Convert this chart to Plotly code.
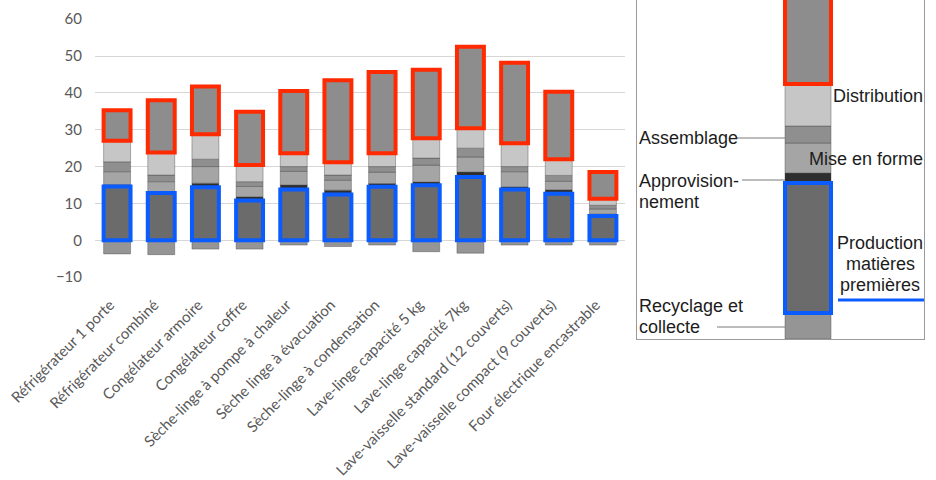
import numpy as np
import plotly.graph_objects as go

# ---------------- data ----------------
categories = [
    "Réfrigérateur 1 porte", "Réfrigérateur combiné", "Congélateur armoire",
    "Congélateur coffre", "Sèche-linge à pompe à chaleur", "Sèche linge à évacuation",
    "Sèche-linge à condensation", "Lave-linge capacité 5 kg", "Lave-linge capacité 7kg",
    "Lave-vaisselle standard (12 couverts)", "Lave-vaisselle compact (9 couverts)",
    "Four électrique encastrable",
]
production = [14.6, 12.8, 14.4, 10.8, 13.8, 12.4, 14.5, 14.9, 17.2, 13.8, 12.6, 6.6]
approvisionnement = [0.5, 0.3, 1.1, 1.0, 1.2, 1.2, 0.9, 0.9, 1.3, 0.7, 1.1, 0.5]
mise_en_forme = [3.5, 2.8, 4.5, 2.8, 3.7, 2.7, 3.1, 4.6, 4.1, 4.1, 2.3, 1.4]
assemblage = [2.7, 1.8, 2.0, 1.3, 1.3, 1.4, 1.5, 1.9, 2.4, 1.4, 1.6, 1.0]
distribution = [5.7, 6.1, 6.8, 4.5, 3.6, 3.5, 3.6, 5.4, 5.4, 6.3, 4.4, 1.8]
segment_haut = [8.3, 14.2, 12.9, 14.5, 16.9, 22.2, 22.1, 18.6, 22.1, 21.9, 18.3, 7.2]
recyclage = [-3.7, -3.9, -2.4, -2.4, -1.3, -1.7, -1.3, -3.1, -3.5, -1.3, -1.3, -1.3]
y_ticks = [-10, 0, 10, 20, 30, 40, 50, 60]

# schematic legend bar (arbitrary units)
legende_valeurs = {
    "production": 130, "approvisionnement": 10, "mise_en_forme": 30,
    "assemblage": 17, "distribution": 42, "segment_haut": 100, "recyclage": -26,
}

# ---------------- styles ----------------
W, H = 936, 480
BLUE = "#0a5cff"
RED = "#ff2a00"
colors = {
    "production": "#6b6b6b", "approvisionnement": "#2e2e2e", "mise_en_forme": "#a5a5a5",
    "assemblage": "#8f8f8f", "distribution": "#c6c6c6", "segment_haut": "#8d8d8d",
    "recyclage": "#959595",
}
names = {
    "production": "Production matières premières", "approvisionnement": "Approvisionnement",
    "mise_en_forme": "Mise en forme", "assemblage": "Assemblage",
    "distribution": "Distribution", "segment_haut": "Segment supérieur",
    "recyclage": "Recyclage et collecte",
}
outline = {
    "production": dict(color=BLUE, width=4),
    "segment_haut": dict(color=RED, width=4),
}
thin = dict(color="rgba(70,70,70,0.4)", width=1)

stack_order = ["production", "approvisionnement", "mise_en_forme", "assemblage",
               "distribution", "segment_haut"]
series = {
    "production": production, "approvisionnement": approvisionnement,
    "mise_en_forme": mise_en_forme, "assemblage": assemblage,
    "distribution": distribution, "segment_haut": segment_haut,
}

# bases from cumulative sums
bases = {}
run = np.zeros(len(categories))
for k in stack_order:
    bases[k] = run.copy()
    run = run + np.array(series[k])

leg_bases = {}
r = 0.0
for k in stack_order:
    leg_bases[k] = r
    r += legende_valeurs[k]

draw_order = ["recyclage", "approvisionnement", "mise_en_forme", "assemblage",
              "distribution", "production", "segment_haut"]

fig = go.Figure()
for k in draw_order:
    vals = recyclage if k == "recyclage" else series[k]
    base = np.zeros(len(categories)) if k == "recyclage" else bases[k]
    fig.add_trace(go.Bar(
        x=categories, y=vals, base=base, name=names[k],
        marker=dict(color=colors[k], line=outline.get(k, thin)),
        xaxis="x", yaxis="y", hoverinfo="skip", showlegend=False,
    ))
    lv = legende_valeurs[k]
    lb = 0.0 if k == "recyclage" else leg_bases[k]
    fig.add_trace(go.Bar(
        x=[808], y=[lv], base=[lb], width=[46], name=names[k],
        marker=dict(color=colors[k], line=outline.get(k, thin)),
        xaxis="x2", yaxis="y2", hoverinfo="skip", showlegend=False,
    ))

Y0 = 313  # pixel row of zero in the legend panel


def py(ypix):
    return Y0 - ypix


FONT_L = "Liberation Sans"
ann = [
    ("Distribution", 923.5, 96, "right"),
    ("Assemblage", 638, 138, "left"),
    ("Mise en forme", 923.5, 159, "right"),
    ("Approvision-", 638, 181, "left"),
    ("nement", 638, 202, "left"),
    ("Production", 880, 243, "center"),
    ("matières", 880, 264, "center"),
    ("premières", 880, 285, "center"),
    ("Recyclage et", 638, 306, "left"),
    ("collecte", 638, 327, "left"),
]
annotations = [
    dict(text=t, x=x, y=py(y), xref="x2", yref="y2", xanchor=a, yanchor="middle",
         showarrow=False, font=dict(family=FONT_L, size=18, color="#1c1c1c"), borderpad=0)
    for t, x, y, a in ann
]

line_specs = [
    (737, 138, 785, 138, "#7a7a7a", 1),
    (742, 180, 785, 180, "#7a7a7a", 1),
    (717, 327, 785, 327, "#7a7a7a", 1),
    (838, 300, 924, 300, BLUE, 3),
]
shapes = [
    dict(type="line", xref="x2", yref="y2", x0=x0, y0=py(y0), x1=x1, y1=py(y1),
         line=dict(color=c, width=w))
    for x0, y0, x1, y1, c, w in line_specs
]

fig.update_layout(
    template="none",
    width=W, height=H, autosize=False,
    margin=dict(l=0, r=0, t=0, b=0, pad=0),
    paper_bgcolor="white", plot_bgcolor="white",
    barmode="overlay", bargap=0.39,
    annotations=annotations, shapes=shapes,
    xaxis=dict(
        domain=[95 / W, 625 / W], anchor="y", type="category", automargin=False,
        tickangle=-45, tickfont=dict(family="Lato", size=15, color="#595959"),
        showgrid=False, showline=False, ticks="", zeroline=False,
        ticklabelstandoff=15, ticklabelshift=-7,
    ),
    yaxis=dict(
        domain=[(H - 277.3) / H, (H - 19) / H], anchor="x", automargin=False,
        range=[-10.05, 60.05], tickvals=y_ticks,
        tickfont=dict(family="Lato", size=15, color="#595959"),
        showgrid=True, gridcolor="#d6d6d6", gridwidth=1.3,
        zeroline=True, zerolinecolor="#d6d6d6", zerolinewidth=1.3,
        showline=False, ticks="", ticklabelstandoff=12,
    ),
    xaxis2=dict(
        domain=[637 / W, 924 / W], anchor="y2", range=[637, 924], automargin=False,
        showticklabels=False, showgrid=False, zeroline=False, ticks="",
        showline=True, linecolor="#9a9a9a", linewidth=1,
    ),
    yaxis2=dict(
        domain=[(H - 339) / H, 1.0], anchor="x2", range=[-26, Y0], automargin=False,
        showticklabels=False, showgrid=False, zeroline=False, ticks="",
        showline=True, mirror=True, linecolor="#9a9a9a", linewidth=1,
    ),
)

fig.write_html(
    "out.html",
    config={"displayModeBar": False},
    post_script="document.body.style.margin='0px';document.body.style.overflow='hidden';",
)
